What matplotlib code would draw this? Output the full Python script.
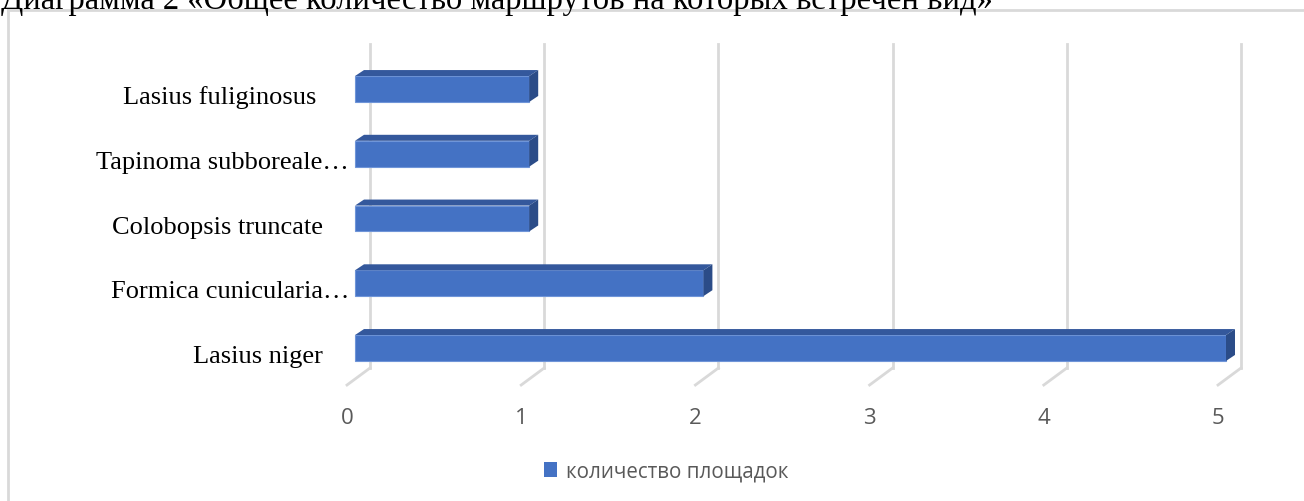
import matplotlib
matplotlib.use("Agg")
import matplotlib.pyplot as plt
from matplotlib.patches import Polygon, Patch
from matplotlib.lines import Line2D

# --- data -------------------------------------------------------------
species = [
    "Lasius fuliginosus     ",
    "Tapinoma subboreale…",
    "Colobopsis truncate    ",
    "Formica cunicularia…",
    "Lasius niger    ",
]
counts = [1, 1, 1, 2, 5]
ticks = [0, 1, 2, 3, 4, 5]
series_name = "количество площадок"
title = "Диаграмма 2 «Общее количество маршрутов на которых встречен вид»"

# --- styling ------------------------------------------------------------
W, H = 1304, 502
FRONT = "#4472C4"
TOP = "#34589C"
SIDE = "#2B4C88"
GRID = "#D9D9D9"
TXT = "#595959"

fig = plt.figure(figsize=(W / 100, H / 100), dpi=100)
ax = fig.add_axes([0, 0, 1, 1])
ax.axis("off")

# value axis: 1 unit = 174.2 px, zero of the bar front at x = 355 px
unit_px = 174.2
x0_px = 355
ax.set_xlim(-x0_px / unit_px, (W - x0_px) / unit_px)
# category axis: 64.75 px per row, first row centred at y = 90 px
row_px = 64.75
y0_px = 90
ax.set_ylim((H - y0_px) / row_px, -y0_px / row_px)

bar_h = 0.40
dx = 9 / unit_px       # depth shift of the bar box
dy = 6 / row_px
wall_dx = 15 / unit_px  # back-wall offset of the gridlines
floor_dx = -8 / unit_px
grid_top = (45 - y0_px) / row_px
grid_bot = (369 - y0_px) / row_px
floor_y = (386 - y0_px) / row_px

# gridlines on the back wall plus their floor diagonals
for t in ticks:
    ax.add_line(Line2D([t + wall_dx, t + wall_dx], [grid_top, grid_bot],
                       color=GRID, lw=2, zorder=1))
    ax.add_line(Line2D([t + wall_dx, t + floor_dx], [grid_bot, floor_y],
                       color=GRID, lw=2, zorder=1))
    ax.text(t + floor_dx, (419 - y0_px) / row_px, str(t), ha="center",
            va="center", fontsize=16, color=TXT, family="Open Sans")

# 3-D style bars
rows = list(range(len(species)))
ax.barh(rows, counts, height=bar_h, left=0, color=FRONT,
        edgecolor="#6F95D8", linewidth=0.8, zorder=3)
for i, v in zip(rows, counts):
    top = i - bar_h / 2
    bot = i + bar_h / 2
    ax.add_patch(Polygon([(0, top), (v, top), (v + dx, top - dy), (dx, top - dy)],
                         closed=True, facecolor=TOP, edgecolor="none", zorder=3))
    ax.add_patch(Polygon([(v, top), (v + dx, top - dy), (v + dx, bot - dy), (v, bot)],
                         closed=True, facecolor=SIDE, edgecolor="none", zorder=3))

# category labels
for i, name in zip(rows, species):
    ax.text(-6 / unit_px, i + bar_h / 2 + 0.02, name, ha="right", va="baseline",
            fontsize=19, family="Liberation Serif", color="black")

# chart frame
fig.add_artist(Line2D([8 / W, 8 / W], [0, 1 - 11 / H], color=GRID, lw=2,
                      transform=fig.transFigure))
fig.add_artist(Line2D([8 / W, 1], [1 - 11 / H, 1 - 11 / H], color=GRID, lw=2,
                      transform=fig.transFigure))

# heading above the frame
fig.text(1 / W, 1 - 9 / H, title, ha="left", va="baseline", fontsize=23.5,
         family="Liberation Serif", color="black")

# legend
fig.legend(handles=[Patch(facecolor=FRONT, edgecolor="none", label=series_name)],
           loc="center", bbox_to_anchor=(666 / W, 1 - 472 / H), frameon=False,
           handlelength=0.65, handleheight=0.75, handletextpad=0.4,
           prop={"family": "Open Sans", "size": 14.8}, labelcolor=TXT)

fig.savefig("out.png", dpi=100)
